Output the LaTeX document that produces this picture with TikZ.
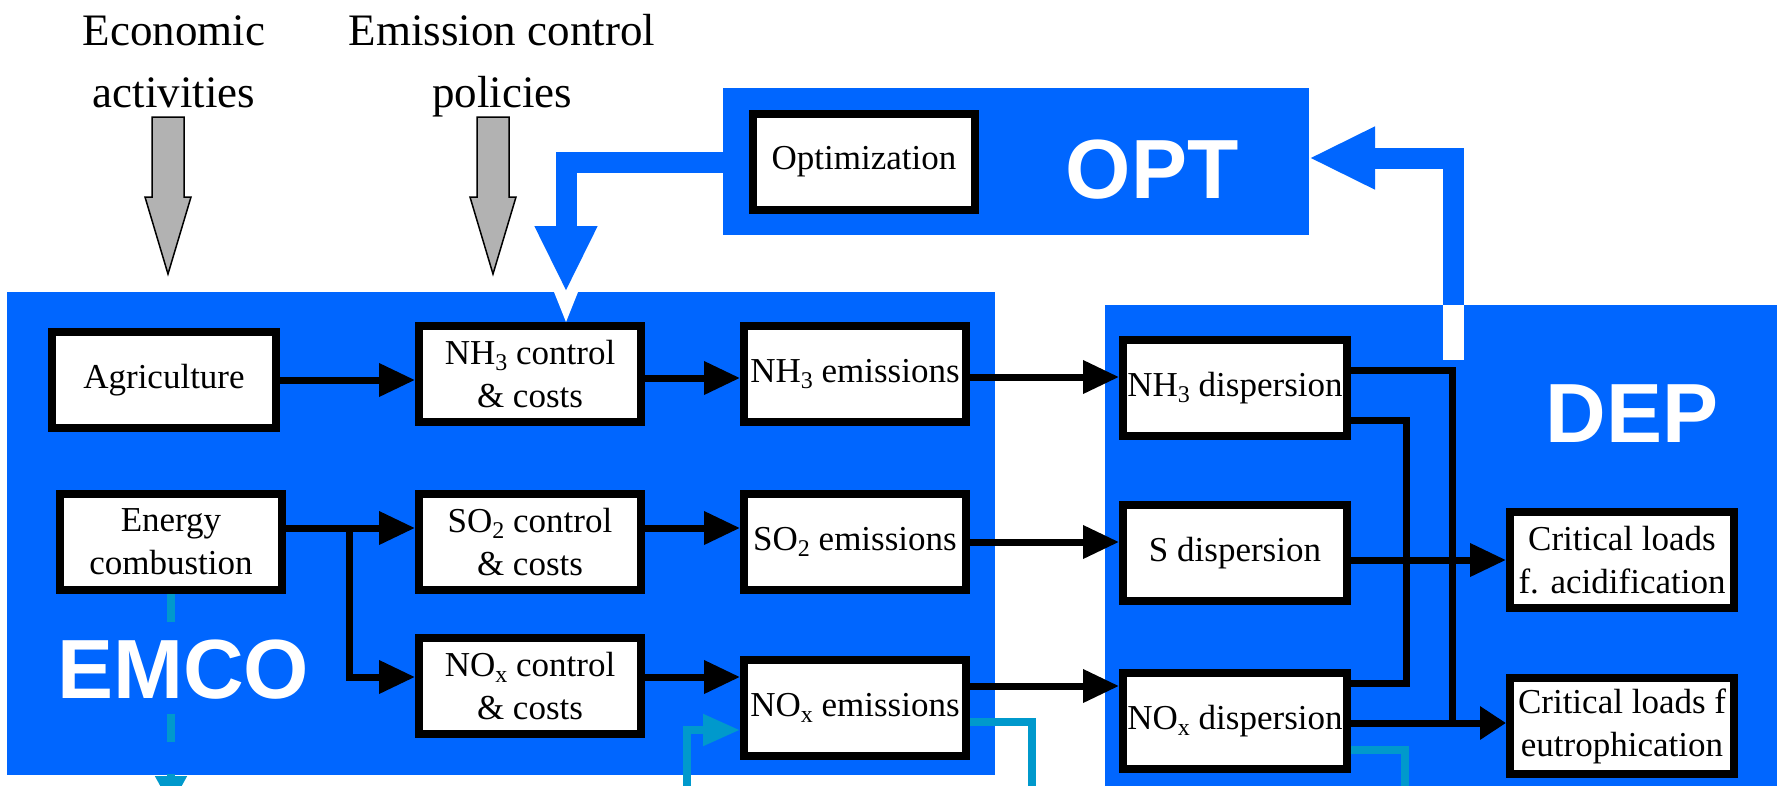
\documentclass[tikz,border=0pt]{standalone}
\usepackage{fontspec}
\setmainfont{Liberation Serif}
\newfontfamily\modulefont{Liberation Sans}
\usetikzlibrary{arrows.meta}

\definecolor{modblue}{RGB}{0,102,255}
\definecolor{flowteal}{RGB}{0,153,204}
\definecolor{inputgray}{RGB}{178,178,178}

% chemical subscript
\newcommand\chem[1]{\raisebox{-0.35ex}{\fontsize{24}{24}\selectfont #1}}

\begin{document}
\begin{tikzpicture}[x=1pt,y=-1pt,
  module/.style={fill=modblue, draw=none, inner sep=0pt, outer sep=0pt, anchor=north west},
  stepbox/.style={draw=black, line width=8pt, fill=white, minimum width=222pt,
    minimum height=96pt, inner sep=0pt, align=center,
    font=\fontsize{35}{43}\selectfont},
  modtitle/.style={text=white, font=\modulefont\bfseries\fontsize{84}{84}\selectfont, anchor=base, inner sep=0pt},
  driver/.style={align=center, anchor=base, inner sep=0pt, font=\fontsize{45}{62}\selectfont},
  flow/.style={line width=7pt, -{Triangle[length=36pt,width=32pt]}},
  link/.style={line width=7pt},
  feedback/.style={draw=modblue, line width=21pt, -{Triangle[length=66pt,width=58pt]}},
  aux/.style={draw=flowteal, line width=8pt},
  blockarrow/.style={fill=inputgray, draw=black, line width=1.5pt, line join=miter},
]
\useasboundingbox (0,0) rectangle (1777,785);
\clip (0,0) rectangle (1777,785);
\fill[white] (0,0) rectangle (1777,785);

% module backgrounds
\node[module, minimum width=988pt, minimum height=483pt] (emco) at (7,292) {};
\node[module, minimum width=690pt, minimum height=490pt] (dep) at (1105,305) {};
\node[module, minimum width=586pt, minimum height=147pt] (optbg) at (723,88) {};

% external drivers (base anchor sits on the last line)
\node[driver] (econ) at (174,107) {Economic\\activities};
\node[driver] (policy) at (502,107) {Emission control\\policies};
\fill[blockarrow] (152,117) -- (184,117) -- (184,197) -- (191,197) -- (168,274)
  -- (145,197) -- (152,197) -- cycle;
\fill[blockarrow] (477,117) -- (509,117) -- (509,197) -- (516,197) -- (493,274)
  -- (470,197) -- (477,197) -- cycle;

% secondary (teal) flows, drawn below the boxes
\draw[aux, dash pattern=on 28pt off 32pt, -{Triangle[length=30pt,width=30pt]}]
  (171,594) -- (171,806);
\coordinate (noxin) at (687,800);
\coordinate (noxout) at (1032,800);
\coordinate (dispout) at (1405,800);

% module titles
\node[modtitle] (emcolbl) at (183,698) {EMCO};
\node[modtitle] (optlbl) at (1152,198) {OPT};
\node[modtitle] (deplbl) at (1632,442) {DEP};

% feedback loop
\coordinate (depexit) at (1453,360);
\coordinate (emcoin) at (566,292);

% boxes
\node[stepbox] (optm) at (864,162) {Optimization};
\node[stepbox, minimum width=224pt] (agri) at (164,380) {Agriculture};
\node[stepbox] (nh3c) at (530,374) {NH\chem{3} control\\\& costs};
\node[stepbox] (nh3e) at (855,374) {NH\chem{3} emissions};
\node[stepbox] (ener) at (171,542) {Energy\\combustion};
\node[stepbox] (so2c) at (530,542) {SO\chem{2} control\\\& costs};
\node[stepbox] (so2e) at (855,542) {SO\chem{2} emissions};
\node[stepbox] (noxc) at (530,686) {NO\chem{x} control\\\& costs};
\node[stepbox] (noxe) at (855,708) {NO\chem{x} emissions};
\node[stepbox, minimum width=224pt] (nh3d) at (1235,388) {NH\chem{3} dispersion};
\node[stepbox, minimum width=224pt] (sd) at (1235,553) {S dispersion};
\node[stepbox, minimum width=224pt] (noxd) at (1235,721) {NO\chem{x} dispersion};
\node[stepbox, minimum width=224pt] (acid) at (1622,560) {Critical loads\\f. acidification};
\node[stepbox, minimum width=224pt] (eutr) at (1622,726) {Critical loads f\\eutrophication};

% teal flows attached to the boxes
\draw[aux, -{Triangle[length=37pt,width=30pt]}] (noxin) |- (noxe.west |- 0,730);
\draw[aux] (noxe.east |- 0,722) -| (noxout);
\draw[aux] (noxd.east |- 0,750) -| (dispout);

% feedback arrows
\draw[feedback] (optm.west) -| (emcoin);
\fill[white] (554,292) -- (578,292) -- (566,322) -- cycle;
\draw[feedback] (depexit) |- (optbg.east |- 0,158);
\fill[white] (1442.5,305) rectangle (1463.5,360);

% emission chain
\draw[flow] (agri.east) -- (agri.east -| nh3c.west);
\draw[flow] (nh3c.east |- 0,378) -- (nh3e.west |- 0,378);
\draw[flow] (nh3e.east |- 0,377) -- (nh3d.west |- 0,377);
\draw[flow] (ener.east |- 0,528) -- (so2c.west |- 0,528);
\coordinate (split) at (349,528);
\draw[flow] (split) |- (noxc.west |- 0,677);
\draw[flow] (so2c.east |- 0,528) -- (so2e.west |- 0,528);
\draw[flow] (so2e.east) -- (so2e.east -| sd.west);
\draw[flow] (noxc.east |- 0,677) -- (noxe.west |- 0,677);
\draw[flow] (noxe.east |- 0,686) -- (noxd.west |- 0,686);

% deposition to critical loads
\coordinate (njoin) at (1452,723);
\draw[link] (nh3d.east |- 0,370) -| (njoin);
\draw[link] (nh3d.east |- 0,420) -| (1406,683) -- (noxd.east |- 0,683);
\draw[flow] (sd.east |- 0,560) -- (acid.west |- 0,560);
\draw[line width=7pt, -{Triangle[length=26pt,width=32pt]}] (noxd.east |- 0,723) -- (eutr.west |- 0,723);
\end{tikzpicture}
\end{document}
